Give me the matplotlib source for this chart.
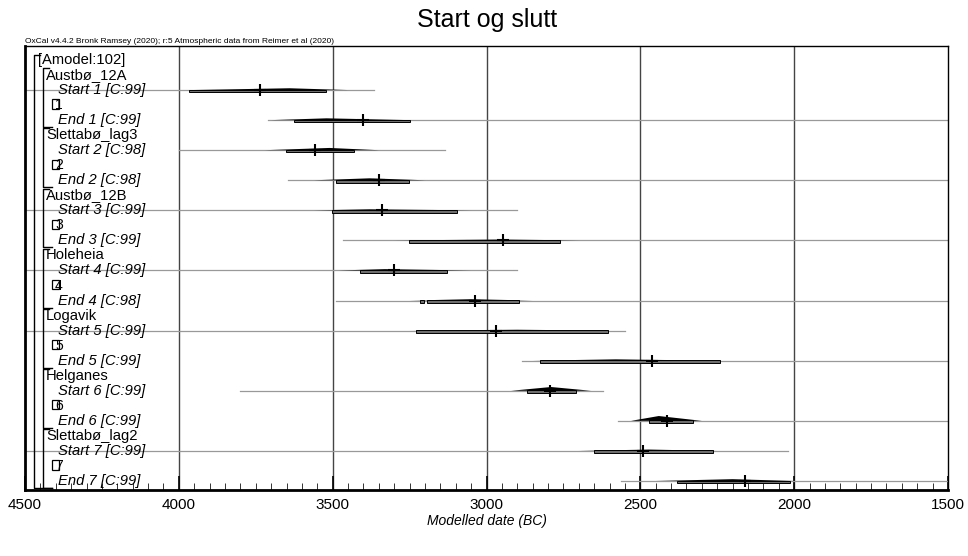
import matplotlib
matplotlib.use('Agg')
import matplotlib.pyplot as plt
from matplotlib.patches import Rectangle, Polygon
from matplotlib.ticker import MultipleLocator

plt.rcParams['font.family'] = ['Liberation Sans', 'DejaVu Sans']

# OxCal boundaries, values (years BC)
groups = ['Austbø_12A', 'Slettabø_lag3', 'Austbø_12B', 'Holeheia',
          'Logavik', 'Helganes', 'Slettabø_lag2']
labels = ['Start 1 [C:99]', 'End 1 [C:99]', 'Start 2 [C:98]', 'End 2 [C:98]',
          'Start 3 [C:99]', 'End 3 [C:99]', 'Start 4 [C:99]', 'End 4 [C:98]',
          'Start 5 [C:99]', 'End 5 [C:99]', 'Start 6 [C:99]', 'End 6 [C:99]',
          'Start 7 [C:99]', 'End 7 [C:99]']
tail_lo = [4500, 3710, 4000, 3645, 4500, 3466, 4500, 3489, 4500, 2885, 3801, 2573, 4500, 2563]
tail_hi = [3366, 1500, 3135, 1500, 2901, 1500, 2901, 1500, 2550, 1500, 2621, 1500, 2020, 1500]
ranges = [[(3967, 3522)], [(3626, 3249)], [(3652, 3431)], [(3489, 3252)],
          [(3502, 3096)], [(3252, 2761)], [(3411, 3128)], [(3216, 3204), (3193, 2895)],
          [(3229, 2605)], [(2826, 2241)], [(2868, 2709)], [(2472, 2329)],
          [(2651, 2264)], [(2381, 2014)]]
median = [3736, 3401, 3557, 3349, 3340, 2946, 3301, 3037, 2969, 2462, 2794, 2413, 2491, 2160]
hump_lo = [3960, 3700, 3720, 3560, 3560, 3300, 3480, 3250, 3250, 2850, 2920, 2530, 2700, 2450]
hump_pk = [3640, 3520, 3510, 3380, 3380, 2950, 3330, 3050, 2900, 2580, 2790, 2440, 2470, 2200]
hump_hi = [3450, 3250, 3350, 3200, 3050, 2700, 3050, 2850, 2600, 2250, 2660, 2300, 2250, 2000]
hump_h = [0.12, 0.12, 0.15, 0.13, 0.07, 0.06, 0.09, 0.09, 0.06, 0.09, 0.25, 0.32, 0.09, 0.12]

W, H = 968, 556
fig = plt.figure(figsize=(W / 100, H / 100), dpi=100)
ax = fig.add_axes([25 / W, 1 - 490 / H, 923 / W, 444 / H])
ax.set_xlim(4500, 1500)
ax.set_ylim(28.6, -0.93)

def px(p):
    # pixel column -> axes fraction
    return (p - 25) / 923

tr = ax.get_yaxis_transform()  # x: axes fraction, y: data
fs = 10.6

# grid
for x in [4000, 3500, 3000, 2500, 2000]:
    ax.axvline(x, color='#444444', lw=1, zorder=1)

# outer bracket
ax.plot([px(40), px(34), px(34), px(52)], [-0.33, -0.33, 28.47, 28.47],
        transform=tr, color='black', lw=1.0, clip_on=False, zorder=3)
ax.text(px(38), 0, '[Amodel:102]', transform=tr, fontsize=fs, va='center', ha='left')

for g, name in enumerate(groups):
    r0 = 1 + 4 * g
    ax.plot([px(49), px(43), px(43), px(52)], [r0 - 0.45, r0 - 0.45, r0 + 3.47, r0 + 3.47],
            transform=tr, color='black', lw=1.0, zorder=3)
    ax.text(px(46), r0, name, transform=tr, fontsize=fs, va='center', ha='left')
    ax.add_patch(Rectangle((px(52), r0 + 2 - 0.38), px(59) - px(52), 0.62, transform=tr,
                           fill=False, edgecolor='black', lw=0.9, zorder=3))
    ax.text(px(55), r0 + 2, str(g + 1), transform=tr, fontsize=10, va='center', ha='left')

for i, lab in enumerate(labels):
    r = 2 + 4 * (i // 2) + 2 * (i % 2)
    ax.text(px(58), r, lab, transform=tr, fontsize=fs, va='center', ha='left', style='italic')
    ax.plot([tail_lo[i], tail_hi[i]], [r, r], color='#999999', lw=0.9, zorder=2)
    ax.add_patch(Polygon([(hump_lo[i], r), (hump_pk[i], r - hump_h[i]), (hump_hi[i], r)],
                         closed=True, facecolor='black', edgecolor='none', zorder=4))
    for lo, hi in ranges[i]:
        ax.add_patch(Rectangle((hi, r - 0.03), lo - hi, 0.18, facecolor='#6e6e6e',
                               edgecolor='black', lw=0.7, zorder=4))
    ax.plot([median[i]], [r], marker='+', color='black', ms=9, mew=1.5, zorder=5)

# axes styling
for side in ['top', 'right']:
    ax.spines[side].set_linewidth(1.0)
for side in ['bottom', 'left']:
    ax.spines[side].set_linewidth(2.0)
ax.set_yticks([])
ax.xaxis.set_major_locator(MultipleLocator(500))
ax.xaxis.set_minor_locator(MultipleLocator(50))
ax.tick_params(axis='x', which='major', direction='in', length=10, width=1.2, labelsize=11, pad=6)
ax.tick_params(axis='x', which='minor', direction='in', length=5, width=0.7, color='#333333')

fig.text(25 / W, 1 - 45 / H, 'OxCal v4.4.2 Bronk Ramsey (2020); r:5 Atmospheric data from Reimer et al (2020)',
         fontsize=6, ha='left', va='bottom')
fig.text(487 / W, 1 - 20 / H, 'Start og slutt', fontsize=18, ha='center', va='center')
fig.text(487 / W, 1 - 521 / H, 'Modelled date (BC)', fontsize=10, ha='center', va='center', style='italic')

fig.savefig('out.png', dpi=100)
